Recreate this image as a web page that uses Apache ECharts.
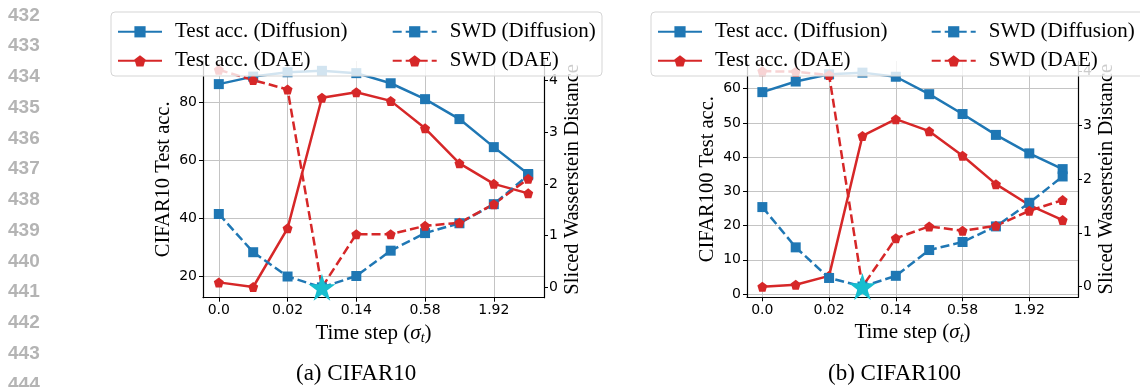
<!DOCTYPE html>
<html>
<head>
<meta charset="utf-8">
<script src="https://cdn.jsdelivr.net/npm/echarts@6/dist/echarts.min.js"></script>
<style>
    html, body { margin: 0; padding: 0; background: #fff; }
    #main { width: 1140px; height: 387px; }
</style>
</head>
<body>
<div id="main"></div>
<script>
// x positions (index of the time step) and the labelled ticks
var stepIdx = [0, 1, 2, 3, 4, 5, 6, 7, 8, 9];
var xTickPos = [0, 2, 4, 6, 8];
var xTickLabels = ['0.0', '0.02', '0.14', '0.58', '1.92'];

// CIFAR10
var c10AccDiff = [86.4, 89.0, 90.5, 91.0, 90.2, 86.7, 81.2, 74.3, 64.6, 55.3];
var c10AccDae = [17.8, 16.2, 36.5, 81.7, 83.6, 80.6, 71.1, 59.0, 51.9, 48.6];
var c10SwdDiff = [1.42, 0.68, 0.21, 0.0, 0.22, 0.71, 1.05, 1.24, 1.61, 2.17];
var c10SwdDae = [4.21, 4.01, 3.83, 0.0, 1.03, 1.03, 1.19, 1.25, 1.61, 2.10];
var c10AccTicks = [20, 40, 60, 80];

// CIFAR100
var c100AccDiff = [59.0, 62.1, 64.2, 64.7, 63.5, 58.4, 52.6, 46.5, 41.1, 36.5];
var c100AccDae = [2.1, 2.7, 5.3, 46.2, 51.1, 47.6, 40.4, 32.1, 26.0, 21.6];
var c100SwdDiff = [1.48, 0.73, 0.16, 0.0, 0.20, 0.68, 0.83, 1.12, 1.56, 2.05];
var c100SwdDae = [4.01, 4.00, 3.94, 0.0, 0.90, 1.12, 1.04, 1.13, 1.41, 1.61];
var c100AccTicks = [0, 10, 20, 30, 40, 50, 60];

var swdTicks = [0, 1, 2, 3, 4];
// the star marks the SWD minimum (index 3, value 0)
var starPoint = [3, 0];

var lineNums = ['432', '433', '434', '435', '436', '437', '438', '439', '440', '441', '442', '443', '444'];

var BLUE = '#1f77b4', RED = '#d62728', CYAN = '#17becf';
var SERIF = '"Liberation Serif", "DejaVu Serif", serif';
var SANS = '"DejaVu Sans", sans-serif';
var PENTAGON = 'path://M0,-1 L0.951,-0.309 L0.588,0.809 L-0.588,0.809 L-0.951,-0.309 Z';
var STAR = 'path://M0,-1 L0.2245,-0.309 L0.951,-0.309 L0.363,0.118 L0.588,0.809 L0,0.382 L-0.588,0.809 L-0.363,0.118 L-0.951,-0.309 L-0.2245,-0.309 Z';

function pairs(ys) {
    return stepIdx.map(function (x, i) { return [x, ys[i]]; });
}

function xAxisFor(gridIndex) {
    return {
        type: 'value', gridIndex: gridIndex, min: -0.46, max: 9.46,
        name: '{n|Time step (}{s|σ}{t|t}{n|)}',
        nameLocation: 'middle', nameGap: 16,
        nameTextStyle: {
            rich: {
                n: { fontFamily: SERIF, fontSize: 21, color: '#000' },
                s: { fontFamily: SERIF, fontSize: 21, fontStyle: 'italic', color: '#000' },
                t: { fontFamily: SERIF, fontSize: 14, fontStyle: 'italic', color: '#000', padding: [11, 0, 0, 0] }
            }
        },
        axisLine: { onZero: false, lineStyle: { color: '#000', width: 1.2 } },
        axisTick: { customValues: xTickPos, length: 4, lineStyle: { color: '#000' } },
        axisLabel: {
            customValues: xTickPos, margin: 6, fontFamily: SANS, fontSize: 14, color: '#000',
            formatter: function (v) { return xTickLabels[xTickPos.indexOf(v)]; }
        },
        splitLine: { show: true, lineStyle: { color: '#c4c4c4', width: 1 } }
    };
}

function accAxis(gridIndex, min, max, ticks, title) {
    return {
        type: 'value', gridIndex: gridIndex, position: 'left', min: min, max: max,
        name: title, nameLocation: 'middle', nameGap: 29,
        nameTextStyle: { fontFamily: SERIF, fontSize: 20.5, color: '#000' },
        axisLine: { show: true, onZero: false, lineStyle: { color: '#000', width: 1.2 } },
        axisTick: { show: true, customValues: ticks, length: 4, lineStyle: { color: '#000' } },
        axisLabel: { customValues: ticks, margin: 6, fontFamily: SANS, fontSize: 14, color: '#000' },
        splitLine: { show: true, lineStyle: { color: '#c4c4c4', width: 1 } }
    };
}

function swdAxis(gridIndex, min, max) {
    return {
        type: 'value', gridIndex: gridIndex, position: 'right', min: min, max: max,
        name: 'Sliced Wasserstein Distance', nameLocation: 'middle', nameGap: 16, nameRotate: 90,
        nameTextStyle: { fontFamily: SERIF, fontSize: 20.5, color: '#000' },
        axisLine: { show: true, onZero: false, lineStyle: { color: '#000', width: 1.2 } },
        axisTick: { show: true, customValues: swdTicks, length: 4, lineStyle: { color: '#000' } },
        axisLabel: { customValues: swdTicks, margin: 5, fontFamily: SANS, fontSize: 14, color: '#000' },
        splitLine: { show: false }
    };
}

function lineSeries(name, xi, yi, ys, color, dashed, symbol) {
    return {
        name: name, type: 'line', xAxisIndex: xi, yAxisIndex: yi, data: pairs(ys),
        symbol: symbol, symbolSize: 10, color: color,
        lineStyle: { color: color, width: 2.5, type: dashed ? [9, 4] : 'solid' },
        itemStyle: { color: color }
    };
}

function starSeries(xi, yi) {
    return {
        type: 'scatter', xAxisIndex: xi, yAxisIndex: yi, data: [starPoint],
        symbol: STAR, symbolSize: 27, itemStyle: { color: CYAN, opacity: 1 }, z: 6
    };
}

function legendItem(name, left, top) {
    return {
        data: [name], left: left, top: top, padding: 0, z: 20,
        itemWidth: 44, itemHeight: 14, selectedMode: false,
        textStyle: { fontFamily: SERIF, fontSize: 21, color: '#000', padding: [0, 0, 0, 8] }
    };
}

var graphics = [
    // legend frames (drawn above the series, semi transparent like matplotlib)
    { type: 'rect', z: 10, shape: { x: 111, y: 12, width: 491, height: 64, r: 4 },
      style: { fill: 'rgba(255,255,255,0.8)', stroke: '#d5d5d5', lineWidth: 1 } },
    { type: 'rect', z: 10, shape: { x: 651, y: 12, width: 495, height: 64, r: 4 },
      style: { fill: 'rgba(255,255,255,0.8)', stroke: '#d5d5d5', lineWidth: 1 } },
    { type: 'text', left: 296, top: 362, style: { text: '(a) CIFAR10', font: '23px ' + SERIF, fill: '#000' } },
    { type: 'text', left: 828, top: 362, style: { text: '(b) CIFAR100', font: '23px ' + SERIF, fill: '#000' } }
];
lineNums.forEach(function (t, i) {
    graphics.push({
        type: 'text', left: 8, top: 6 + i * 30.75,
        style: { text: t, font: 'bold 19px "Liberation Sans", sans-serif', fill: '#b4b4b4' }
    });
});

var myChart = echarts.init(document.getElementById('main'));
myChart.setOption({
    animation: false,
    backgroundColor: '#fff',
    grid: [
        { left: 203, top: 61, width: 341, height: 236.7 },
        { left: 747, top: 61, width: 331, height: 236.3 }
    ],
    xAxis: [xAxisFor(0), xAxisFor(1)],
    yAxis: [
        accAxis(0, 12.5, 94.4, c10AccTicks, 'CIFAR10 Test acc.'),
        swdAxis(0, -0.2, 4.38),
        accAxis(1, -0.97, 68.1, c100AccTicks, 'CIFAR100 Test acc.'),
        swdAxis(1, -0.2, 4.2)
    ],
    legend: [
        legendItem('Test acc. (Diffusion)', 117, 21.3),
        legendItem('Test acc. (DAE)', 117, 50.3),
        legendItem('SWD (Diffusion)', 391.7, 21.3),
        legendItem('SWD (DAE)', 391.7, 50.3),
        legendItem('Test acc. (Diffusion)', 657, 21.3),
        legendItem('Test acc. (DAE)', 657, 50.3),
        legendItem('SWD (Diffusion)', 930.7, 21.3),
        legendItem('SWD (DAE)', 930.7, 50.3)
    ],
    graphic: graphics,
    series: [
        lineSeries('Test acc. (Diffusion)', 0, 0, c10AccDiff, BLUE, false, 'rect'),
        lineSeries('Test acc. (DAE)', 0, 0, c10AccDae, RED, false, PENTAGON),
        lineSeries('SWD (Diffusion)', 0, 1, c10SwdDiff, BLUE, true, 'rect'),
        lineSeries('SWD (DAE)', 0, 1, c10SwdDae, RED, true, PENTAGON),
        starSeries(0, 1),
        lineSeries('Test acc. (Diffusion)', 1, 2, c100AccDiff, BLUE, false, 'rect'),
        lineSeries('Test acc. (DAE)', 1, 2, c100AccDae, RED, false, PENTAGON),
        lineSeries('SWD (Diffusion)', 1, 3, c100SwdDiff, BLUE, true, 'rect'),
        lineSeries('SWD (DAE)', 1, 3, c100SwdDae, RED, true, PENTAGON),
        starSeries(1, 3)
    ]
});
</script>
</body>
</html>
